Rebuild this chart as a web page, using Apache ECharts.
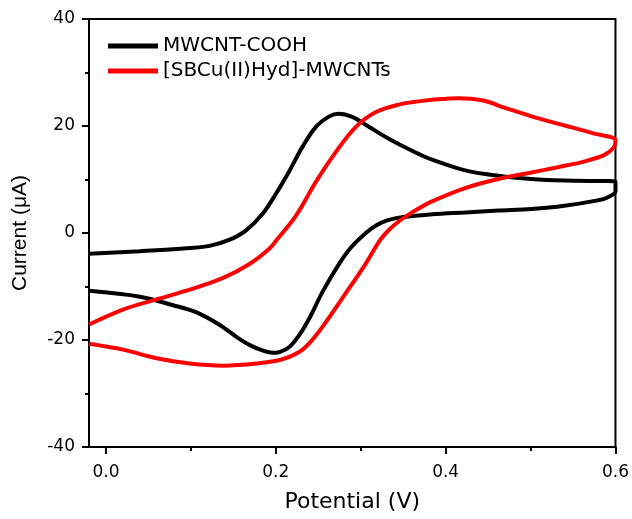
<!DOCTYPE html>
<html>
<head>
<meta charset="utf-8">
<script src="https://cdn.jsdelivr.net/npm/echarts@6/dist/echarts.min.js"></script>
<style>
  html, body { margin: 0; padding: 0; background: #fff; }
  #chart { width: 632px; height: 519px; }
</style>
</head>
<body>
<div id="chart"></div>
<script>
// ─── data ───────────────────────────────────────────────────
// MWCNT-COOH: forward scan to 0.6 V, then back
const mwcntV = [-0.020, 0.040, 0.0985, 0.122, 0.145, 0.165, 0.1845, 0.200, 0.216, 0.231,
                0.247, 0.263, 0.274, 0.290, 0.310, 0.333, 0.345, 0.368, 0.384, 0.423,
                0.462, 0.501, 0.540, 0.600,
                0.600, 0.590, 0.579, 0.540, 0.501, 0.462, 0.423, 0.384, 0.350, 0.332,
                0.318, 0.306, 0.288, 0.274, 0.255, 0.240, 0.228, 0.216, 0.205, 0.196,
                0.185, 0.170, 0.157, 0.134, 0.106, 0.079, 0.040, -0.020]
const mwcntI = [-3.9, -3.4, -2.8, -2.4, -1.3, 0.5, 3.6, 7.3, 11.6, 16.0,
                19.8, 21.8, 22.3, 21.7, 19.8, 17.6, 16.6, 14.8, 13.7, 11.7,
                10.7, 10.1, 9.8, 9.6,
                7.8, 6.6, 6.1, 5.1, 4.5, 4.2, 3.85, 3.5, 3.0, 2.4,
                1.4, 0.0, -2.8, -5.9, -11.0, -15.8, -19.0, -21.3, -22.2, -22.4,
                -22.0, -21.0, -19.8, -17.2, -14.8, -13.5, -11.9, -10.8]

// [SBCu(II)Hyd]-MWCNTs
const sbcuV = [-0.020, 0.020, 0.0595, 0.0985, 0.138, 0.169, 0.192, 0.200, 0.224, 0.247,
               0.271, 0.294, 0.318, 0.345, 0.368, 0.384, 0.415, 0.443, 0.470, 0.501,
               0.540, 0.572, 0.600,
               0.598, 0.587, 0.564, 0.532, 0.501, 0.462, 0.423, 0.384, 0.361, 0.345,
               0.334, 0.322, 0.304, 0.280, 0.256, 0.240, 0.228, 0.208, 0.177, 0.138,
               0.0985, 0.0595, 0.020, -0.020]
const sbcuI = [-17.1, -14.3, -12.4, -10.6, -8.4, -5.8, -3.0, -1.5, 3.3, 9.5,
               15.2, 19.8, 22.6, 24.0, 24.6, 24.9, 25.2, 24.8, 23.4, 21.8,
               20.1, 18.7, 17.3,
               16.0, 14.6, 13.4, 12.3, 11.3, 10.1, 8.4, 5.9, 3.9, 2.2,
               0.7, -1.5, -6.2, -11.8, -17.3, -20.5, -22.2, -23.6, -24.4, -24.8,
               -24.4, -23.4, -21.8, -20.7]

const seriesNames  = ['MWCNT-COOH', '[SBCu(II)Hyd]-MWCNTs']
const seriesColors = ['#000000', '#ff0000']
const xMajorTicks  = [0, 0.2, 0.4, 0.6]
const xMinorTicks  = [0.1, 0.3, 0.5]

const zip = (xs, ys) => xs.map((x, i) => [x, ys[i]])

const chart = echarts.init(document.getElementById('chart'))

const tickFont = { fontFamily: 'DejaVu Sans', fontSize: 17, color: '#000' }

chart.setOption({
  animation: false,
  grid: {
    left: 89, right: 15, top: 19, bottom: 72,
    show: true, borderColor: '#000', borderWidth: 2,
  },
  legend: {
    orient: 'vertical',
    left: 103, top: 31,
    icon: 'rect',
    itemWidth: 50, itemHeight: 5, itemGap: 5,
    data: seriesNames,
    textStyle: { fontFamily: 'DejaVu Sans', fontSize: 20, color: '#000', lineHeight: 20 },
  },
  xAxis: [
    {
      type: 'value', min: -0.02, max: 0.6, position: 'bottom',
      name: 'Potential (V)', nameLocation: 'middle', nameGap: 44,
      nameTextStyle: { fontFamily: 'DejaVu Sans', fontSize: 22, color: '#000' },
      axisLine: { onZero: false, lineStyle: { color: '#000', width: 2 } },
      axisTick: { customValues: xMajorTicks, length: 7, lineStyle: { color: '#000', width: 2 } },
      axisLabel: { customValues: xMajorTicks, margin: 17, formatter: v => v.toFixed(1), ...tickFont },
      splitLine: { show: false },
    },
    // minor ticks only
    {
      type: 'value', min: -0.02, max: 0.6, position: 'bottom', offset: 0,
      axisLine: { show: false, onZero: false },
      axisTick: { customValues: xMinorTicks, length: 4, lineStyle: { color: '#000', width: 2 } },
      axisLabel: { show: false },
      splitLine: { show: false },
    },
  ],
  yAxis: {
    type: 'value', min: -40, max: 40, interval: 20,
    name: 'Current (\u03bcA)', nameLocation: 'middle', nameGap: 58, nameRotate: 90,
    nameTextStyle: { fontFamily: 'Liberation Sans', fontSize: 21, color: '#000' },
    axisLine: { show: true, onZero: false, lineStyle: { color: '#000', width: 2 } },
    axisTick: { show: true, length: 7, lineStyle: { color: '#000', width: 2 } },
    minorTick: { show: true, splitNumber: 2, length: 4, lineStyle: { color: '#000', width: 2 } },
    axisLabel: { margin: 14, ...tickFont },
    splitLine: { show: false },
  },
  series: [
    {
      name: seriesNames[0], type: 'line', data: zip(mwcntV, mwcntI),
      showSymbol: false, smooth: 0.35,
      itemStyle: { color: seriesColors[0] },
      lineStyle: { color: seriesColors[0], width: 4 },
    },
    {
      name: seriesNames[1], type: 'line', data: zip(sbcuV, sbcuI),
      showSymbol: false, smooth: 0.35,
      itemStyle: { color: seriesColors[1] },
      lineStyle: { color: seriesColors[1], width: 4 },
    },
  ],
})
</script>
</body>
</html>
